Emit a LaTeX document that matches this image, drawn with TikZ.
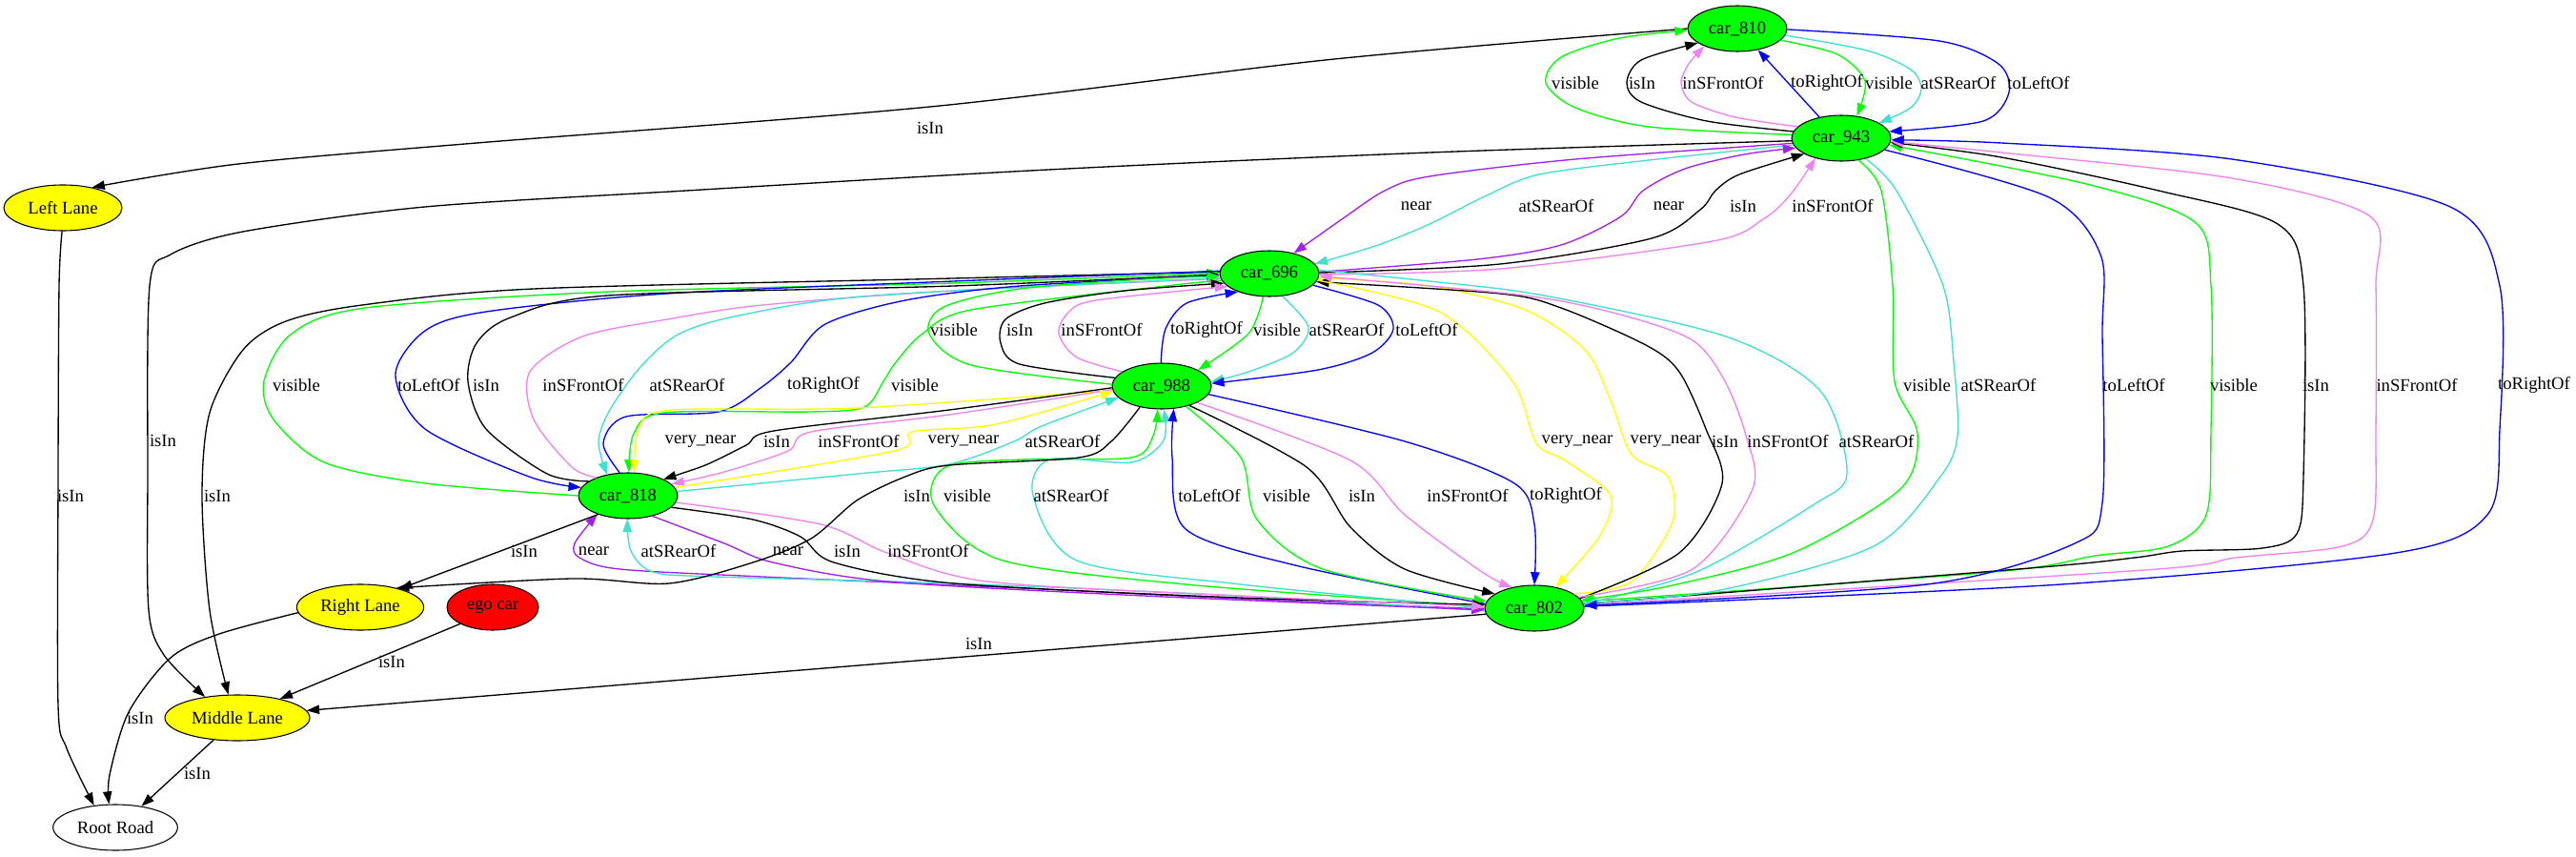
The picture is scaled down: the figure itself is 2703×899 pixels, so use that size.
\documentclass[tikz,border=0pt]{standalone}
\usepackage{fontspec}
\setmainfont{Liberation Serif}
\usetikzlibrary{shapes.geometric,arrows.meta}
\definecolor{gvgreen}{HTML}{00FF00}
\definecolor{gvblue}{HTML}{0000FF}
\definecolor{gvviolet}{HTML}{EE82EE}
\definecolor{gvturq}{HTML}{40E0D0}
\definecolor{gvpurple}{HTML}{A020F0}
\definecolor{gvyellow}{HTML}{FFFF00}
\definecolor{gvred}{HTML}{FF0000}
\tikzset{
  rel/.style={line width=1pt,-{Triangle[length=10pt,width=7pt]}},
  lab/.style={font=\fontsize{14}{16}\selectfont, inner sep=0pt},
  basenode/.style={ellipse, draw, line width=0.8pt, inner sep=0pt, minimum height=36pt, font=\fontsize{14}{16}\selectfont},
  carnode/.style={basenode, fill=gvgreen, minimum width=78pt},
  lanenode/.style={basenode, fill=gvyellow},
  egonode/.style={basenode, fill=gvred, minimum width=72pt},
  roadnode/.style={basenode, fill=white, minimum width=98pt},
}
\begin{document}
\begin{tikzpicture}[x=0.75pt,y=-0.75pt]
\useasboundingbox[fill=white] (0,0) rectangle (2703,899);
% nodes
\node[carnode] (c810) at (1823,30) {car\_810};
\node[carnode] (c943) at (1932,145) {car\_943};
\node[carnode] (c696) at (1332,287) {car\_696};
\node[carnode] (c988) at (1219,405) {car\_988};
\node[carnode] (c818) at (659,520) {car\_818};
\node[carnode] (c802) at (1610,638) {car\_802};
\node[lanenode, minimum width=93pt] (LL) at (66,218) {Left Lane};
\node[lanenode, minimum width=100pt] (RL) at (378,637) {Right Lane};
\node[egonode] (ego) at (517,637) {ego car};
\node[lanenode, minimum width=114pt] (ML) at (249,753) {Middle Lane};
\node[roadnode] (RR) at (121,868) {Root Road};

% ---- car_810 group
\draw[rel] plot[smooth] coordinates {(c810.180) (1400,62) (976,112) (500,150) (250,172) (LL.35)};
\draw[rel,gvgreen] plot[smooth] coordinates {(c943.176) (1730,133) (1653,113) (1622,87) (1638,60) (1699,40) (c810.182)};
\draw[rel] plot[smooth] coordinates {(c943.172) (1791,127) (1722,107) (1707,87) (1722,63) (c810.200)};
\draw[rel,gvviolet] plot[smooth] coordinates {(c943.165) (1821,123) (1775,107) (1764,87) (1772,67) (c810.208)};
\draw[rel,gvblue] (c943.136) -- (c810.-46);
\draw[rel,gvgreen] plot[smooth] coordinates {(c810.-15) (1928,57) (1957,85) (c943.55)};
\draw[rel,gvturq] plot[smooth] coordinates {(c810.-8) (1959,53) (2005,73) (2016,93) (2005,113) (c943.22)};

% ---- 943 <-> 696
\draw[rel,gvpurple] plot[smooth] coordinates {(c943.186) (1653,167) (1500,185) (1453,200) (1408,230) (c696.40)};
\draw[rel,gvturq] plot[smooth] coordinates {(c943.188) (1730,168) (1615,183) (1560,205) (1500,235) (1446,257) (c696.12)};
\draw[rel,gvpurple] plot[smooth] coordinates {(c696.2) (1550,272) (1638,257) (1701,227) (1724,200) (1768,177) (1830,162) (c943.192)};
\draw[rel] plot[smooth] coordinates {(c696.1) (1574,277) (1733,250) (1784,220) (1800,200) (1825,183) (c943.203)};
\draw[rel,gvviolet] plot[smooth] coordinates {(c696.-1) (1574,282) (1797,253) (1850,230) (1878,205) (c943.218)};

% ---- to Middle Lane
\draw[rel] plot[smooth] coordinates {(c943.183) (1500,160) (1100,178) (720,200) (446,217) (255,243) (179,267) (157,300) (155,500) (156,640) (172,687) (ML.147)};
\draw[rel] plot[smooth] coordinates {(c696.178) (1000,292) (560,303) (380,320) (300,337) (255,367) (220,433) (212,520) (220,640) (ML.111)};

% ---- 696 <-> 818
\draw[rel,gvgreen] plot[smooth] coordinates {(c818.180) (446,507) (340,485) (287,440) (277,400) (306,350) (383,323) (640,306) (1000,297) (c696.179)};
\draw[rel,gvblue] plot[smooth] coordinates {(c696.177) (1000,295) (700,308) (510,327) (446,347) (415,393) (446,450) (555,500) (c818.170)};
\draw[rel] plot[smooth] coordinates {(c818.160) (574,497) (510,450) (491,400) (500,360) (536,333) (638,310) (1000,300) (c696.181)};
\draw[rel,gvviolet] plot[smooth] coordinates {(c818.150) (600,490) (560,440) (556,390) (611,353) (700,335) (800,320) (1000,305) (c696.186)};
\draw[rel,gvturq] plot[smooth] coordinates {(c696.185) (917,310) (780,330) (713,350) (672,385) (640,430) (628,463) (c818.135)};
\draw[rel,gvblue] plot[smooth] coordinates {(c818.110) (633,465) (657,437) (754,432) (798,407) (830,380) (866,340) (950,315) (1070,300) (c696.182)};
\draw[rel,gvgreen] plot[smooth] coordinates {(c696.188) (1223,300) (1019,325) (968,350) (940,380) (927,400) (907,427) (851,432) (696,433) (665,455) (c818.88)};

% ---- 988 <-> 696
\draw[rel,gvgreen] plot[smooth] coordinates {(c988.178) (1019,383) (975,350) (990,322) (1070,303) (1200,293) (c696.183)};
\draw[rel] plot[smooth] coordinates {(c988.170) (1070,382) (1050,360) (1055,335) (1096,318) (1180,305) (c696.192)};
\draw[rel,gvviolet] plot[smooth] coordinates {(c988.160) (1130,375) (1111,350) (1121,328) (1150,315) (c696.197)};
\draw[rel,gvblue] plot[smooth] coordinates {(c988.92) (1223,345) (1245,318) (c696.210)};
\draw[rel,gvgreen] plot[smooth] coordinates {(c696.255) (1310,350) (c988.24)};
\draw[rel,gvturq] plot[smooth] coordinates {(c696.-60) (1373,343) (1357,370) (1310,390) (c988.5)};
\draw[rel,gvblue] plot[smooth] coordinates {(c696.-15) (1446,320) (1462,345) (1440,370) (1383,388) (c988.3)};

% ---- 988 <-> 818
\draw[rel,gvyellow] plot[smooth] coordinates {(c988.185) (899,428) (705,430) (671,447) (c818.75)};
\draw[rel] plot[smooth] coordinates {(c988.182) (996,430) (812,452) (783,467) (740,488) (c818.25)};
\draw[rel,gvviolet] plot[smooth] coordinates {(c988.184) (996,435) (851,453) (827,473) (760,495) (c818.15)};
\draw[rel,gvyellow] plot[smooth] coordinates {(c818.10) (938,473) (957,453) (1045,445) (c988.186)};
\draw[rel,gvturq] plot[smooth] coordinates {(c818.5) (900,497) (996,487) (1064,463) (1093,447) (c988.195)};

% ---- 988 <-> 802
\draw[rel,gvgreen] plot[smooth] coordinates {(c802.178) (1244,613) (1049,587) (980,530) (992,490) (1072,482) (1187,480) (1210,457) (c988.-100)};
\draw[rel,gvturq] plot[smooth] coordinates {(c802.180) (1302,613) (1130,588) (1084,520) (1101,482) (1187,485) (1221,462) (c988.-85)};
\draw[rel,gvblue] plot[smooth] coordinates {(c802.175) (1359,593) (1244,555) (1230,480) (c988.-62)};
\draw[rel,gvgreen] plot[smooth] coordinates {(c988.-40) (1302,480) (1319,545) (1388,597) (c802.172)};
\draw[rel] plot[smooth] coordinates {(c988.-35) (1371,490) (1417,553) (1474,597) (c802.160)};
\draw[rel,gvviolet] plot[smooth] coordinates {(c988.-25) (1417,483) (1474,540) (1555,600) (c802.137)};
\draw[rel,gvblue] plot[smooth] coordinates {(c988.-10) (1474,463) (1589,507) (1610,550) (c802.90)};

% ---- 802 -> 943 (right side)
\draw[rel,gvgreen] plot[smooth] coordinates {(c802.8) (2092,600) (2198,583) (2275,573) (2315,540) (2320,450) (2320,300) (2303,233) (2189,193) (c943.-8)};
\draw[rel] plot[smooth] coordinates {(c802.5) (2130,596) (2240,585) (2290,578) (2374,575) (2410,560) (2417,500) (2417,300) (2390,235) (2265,200) (2100,165) (c943.-5)};
\draw[rel,gvviolet] plot[smooth] coordinates {(c802.4) (2250,598) (2346,585) (2458,573) (2490,545) (2493,450) (2493,300) (2487,227) (2342,187) (2100,160) (c943.-4)};
\draw[rel,gvblue] plot[smooth] coordinates {(c802.2) (2163,613) (2514,580) (2610,540) (2623,450) (2623,300) (2571,217) (2342,167) (2100,150) (c943.-2)};
\draw[rel,gvblue] plot[smooth] coordinates {(c810.-1) (2035,43) (2097,67) (2108,97) (2081,127) (c943.8)};

% ---- 696 <-> 802
\draw[rel,gvyellow] plot[smooth] coordinates {(c802.20) (1712,610) (1755,547) (1750,500) (1712,477) (1690,420) (1663,367) (1600,325) (1500,300) (c696.-5)};
\draw[rel] plot[smooth] coordinates {(c802.12) (1762,580) (1807,507) (1790,450) (1762,390) (1727,362) (1638,323) (1574,308) (c696.-10)};
\draw[rel,gvviolet] plot[smooth] coordinates {(c802.14) (1776,597) (1839,513) (1832,457) (1810,400) (1776,357) (1700,330) (1600,310) (c696.-3)};
\draw[rel,gvyellow] plot[smooth] coordinates {(c696.-8) (1510,327) (1587,400) (1612,465) (1642,483) (1690,520) (1678,563) (c802.45)};
\draw[rel,gvturq] plot[smooth] coordinates {(c696.4) (1500,295) (1620,310) (1811,353) (1910,410) (1938,497) (1902,530) (1780,600) (c802.5)};

% ---- 943 -> 802
\draw[rel,gvgreen] plot[smooth] coordinates {(c943.-52) (1974,200) (1986,300) (1988,400) (2012,455) (1994,513) (1881,580) (1750,615) (c802.10)};
\draw[rel,gvturq] plot[smooth] coordinates {(c943.-40) (1990,200) (2039,300) (2050,380) (2054,457) (2036,500) (1966,573) (1800,620) (c802.6)};
\draw[rel,gvblue] plot[smooth] coordinates {(c943.-15) (2150,207) (2204,267) (2206,350) (2206,527) (2177,570) (2022,613) (c802.3)};

% ---- 818 <-> 802
\draw[rel,gvpurple] plot[smooth] coordinates {(c802.181) (1300,628) (1071,617) (800,605) (650,597) (608,585) (603,570) (c818.211)};
\draw[rel,gvturq] plot[smooth] coordinates {(c802.183) (1300,625) (1000,612) (750,605) (685,600) (662,578) (c818.-92)};
\draw[rel,gvpurple] plot[smooth] coordinates {(c818.-40) (760,570) (811,590) (931,610) (1200,625) (c802.182)};
\draw[rel] plot[smooth] coordinates {(c818.-15) (790,545) (840,563) (875,590) (1001,612) (1300,627) (c802.176)};
\draw[rel,gvviolet] plot[smooth] coordinates {(c818.-8) (861,550) (931,580) (1036,610) (1300,625) (c802.178)};

% ---- lanes and road
\draw[rel] (c818.212) -- (RL.25);
\draw[rel] plot[smooth] coordinates {(c988.224) (1166,463) (1132,480) (996,488) (950,500) (899,525) (851,565) (790,590) (702,612) (600,607) (RL.28)};
\draw[rel] (ego.207) -- (ML.24);
\draw[rel] (c802.187) -- (ML.6);
\draw[rel] plot[smooth] coordinates {(RL.185) (230,665) (179,690) (135,747) (115,813) (RR.105)};
\draw[rel] (ML.223) -- (RR.39);
\draw[rel] plot[smooth] coordinates {(LL.-92) (62,300) (61,500) (61,740) (70,785) (RR.134)};

% ---- labels
\node[lab] (l01) at (976,134) {isIn};
\node[lab] (l02) at (1653,87) {visible};
\node[lab] (l03) at (1723,87) {isIn};
\node[lab] (l04) at (1808,87) {inSFrontOf};
\node[lab] (l05) at (1917,87) {toRightOf};
\node[lab] (l06) at (1982,87) {visible};
\node[lab] (l07) at (2055,87) {atSRearOf};
\node[lab] (l08) at (2139,87) {toLeftOf};
\node[lab] (l09) at (1486,216) {near};
\node[lab] (l10) at (1633,216) {atSRearOf};
\node[lab] (l11) at (1751,216) {near};
\node[lab] (l12) at (1829,216) {isIn};
\node[lab] (l13) at (1923,216) {inSFrontOf};
\node[lab] (l14) at (1001,346) {visible};
\node[lab] (l15) at (1070,346) {isIn};
\node[lab] (l16) at (1156,346) {inSFrontOf};
\node[lab] (l17) at (1266,346) {toRightOf};
\node[lab] (l18) at (1340,346) {visible};
\node[lab] (l19) at (1413,346) {atSRearOf};
\node[lab] (l20) at (1497,346) {toLeftOf};
\node[lab] (l21) at (311,404) {visible};
\node[lab] (l22) at (450,404) {toLeftOf};
\node[lab] (l23) at (510,404) {isIn};
\node[lab] (l24) at (612,404) {inSFrontOf};
\node[lab] (l25) at (721,404) {atSRearOf};
\node[lab] (l26) at (864,404) {toRightOf};
\node[lab] (l27) at (960,404) {visible};
\node[lab] (l28) at (2022,404) {visible};
\node[lab] (l29) at (2097,404) {atSRearOf};
\node[lab] (l30) at (2239,404) {toLeftOf};
\node[lab] (l31) at (2344,404) {visible};
\node[lab] (l32) at (2430,404) {isIn};
\node[lab] (l33) at (2536,404) {inSFrontOf};
\node[lab] (l34) at (2659,404) {toRightOf};
\node[lab] (l35) at (171,462) {isIn};
\node[lab] (l36) at (228,520) {isIn};
\node[lab] (l37) at (74,520) {isIn};
\node[lab] (l38) at (735,463) {very\_near};
\node[lab] (l39) at (815,463) {isIn};
\node[lab] (l40) at (901,463) {inSFrontOf};
\node[lab] (l41) at (1011,463) {very\_near};
\node[lab] (l42) at (1115,463) {atSRearOf};
\node[lab] (l43) at (1655,463) {very\_near};
\node[lab] (l44) at (1748,463) {very\_near};
\node[lab] (l45) at (1810,463) {isIn};
\node[lab] (l46) at (1876,463) {inSFrontOf};
\node[lab] (l47) at (1969,463) {atSRearOf};
\node[lab] (l48) at (962,520) {isIn};
\node[lab] (l49) at (1015,520) {visible};
\node[lab] (l50) at (1124,520) {atSRearOf};
\node[lab] (l51) at (1269,520) {toLeftOf};
\node[lab] (l52) at (1350,520) {visible};
\node[lab] (l53) at (1429,520) {isIn};
\node[lab] (l54) at (1540,520) {inSFrontOf};
\node[lab] (l55) at (1643,520) {toRightOf};
\node[lab] (l56) at (550,578) {isIn};
\node[lab] (l57) at (623,578) {near};
\node[lab] (l58) at (712,578) {atSRearOf};
\node[lab] (l59) at (827,578) {near};
\node[lab] (l60) at (889,578) {isIn};
\node[lab] (l61) at (974,578) {inSFrontOf};
\node[lab] (l62) at (411,694) {isIn};
\node[lab] (l63) at (1027,675) {isIn};
\node[lab] (l64) at (147,753) {isIn};
\node[lab] (l65) at (207,811) {isIn};
\end{tikzpicture}
\end{document}
